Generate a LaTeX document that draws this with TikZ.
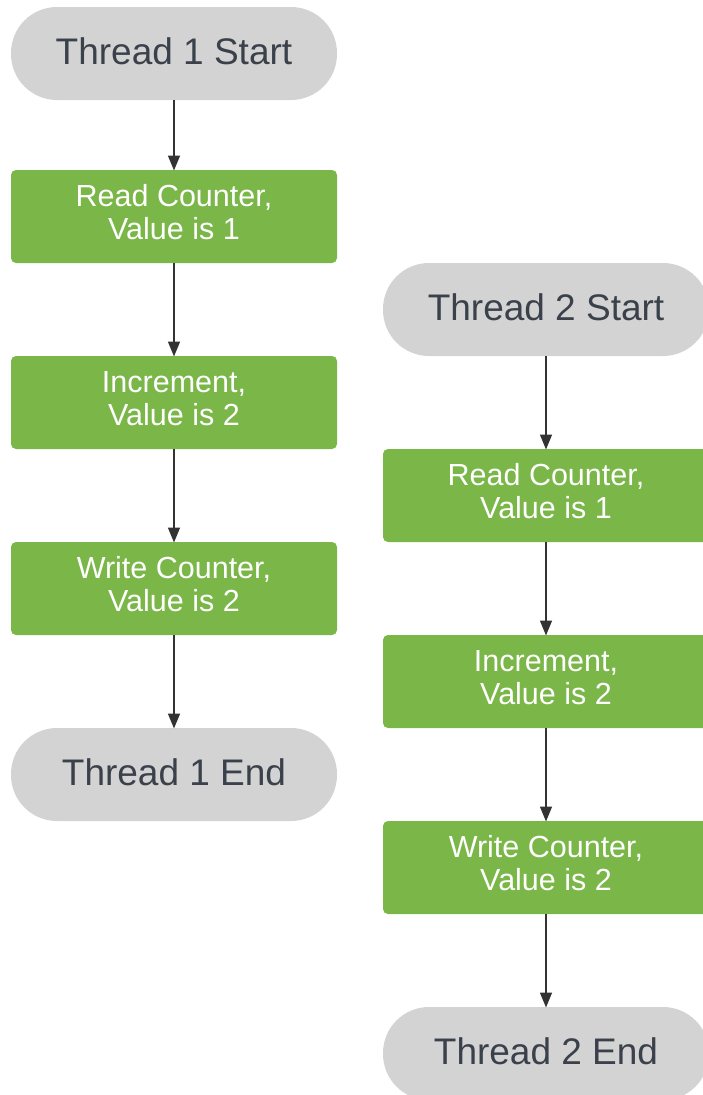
\documentclass[tikz,border=0pt]{standalone}
\usepackage{fontspec}
\setmainfont{Liberation Sans}
\usetikzlibrary{arrows.meta}
\definecolor{termgray}{HTML}{D3D3D3}
\definecolor{stepgreen}{HTML}{7AB648}
\definecolor{termtext}{HTML}{3A414A}
\definecolor{arrowcol}{HTML}{333333}
\newcommand\steptext[2]{\raisebox{3pt}{\begin{tabular}{@{}c@{}}#1\\#2\end{tabular}}}
\newcommand\termtext[1]{\raisebox{4pt}{#1}}
\tikzset{
  terminal/.style={fill=termgray, draw=none, rounded corners=46pt, minimum width=326pt, minimum height=93pt, inner sep=0pt, outer sep=0pt, text=termtext, font=\fontsize{37}{40}\selectfont},
  stepbox/.style={fill=stepgreen, draw=none, rounded corners=5pt, minimum width=326pt, minimum height=93pt, inner sep=0pt, outer sep=0pt, text=white, font=\fontsize{30.5}{33}\selectfont},
  flow/.style={draw=arrowcol, line width=1.5pt, -{Triangle[length=15pt, width=12pt]}, shorten >=-0.5pt}
}
\begin{document}
\begin{tikzpicture}[x=1pt, y=-1pt]
\useasboundingbox (0,0) rectangle (703,1095);
\begin{scope}
\clip (0,0) rectangle (703,1095);
% left column
\node[terminal] (s1) at (174,53.5) {\termtext{Thread 1 Start}};
\node[stepbox] (r1) at (174,216.5) {\steptext{Read Counter,}{Value is 1}};
\node[stepbox] (i1) at (174,402.5) {\steptext{Increment,}{Value is 2}};
\node[stepbox] (w1) at (174,588.5) {\steptext{Write Counter,}{Value is 2}};
\node[terminal] (e1) at (174,774.5) {\termtext{Thread 1 End}};
% right column
\node[terminal] (s2) at (546,309.5) {\termtext{Thread 2 Start}};
\node[stepbox] (r2) at (546,495.5) {\steptext{Read Counter,}{Value is 1}};
\node[stepbox] (i2) at (546,681.5) {\steptext{Increment,}{Value is 2}};
\node[stepbox] (w2) at (546,867.5) {\steptext{Write Counter,}{Value is 2}};
\node[terminal] (e2) at (546,1053.5) {\termtext{Thread 2 End}};
\end{scope}
\draw[flow] (s1) -- (r1);
\draw[flow] (r1) -- (i1);
\draw[flow] (i1) -- (w1);
\draw[flow] (w1) -- (e1);
\draw[flow] (s2) -- (r2);
\draw[flow] (r2) -- (i2);
\draw[flow] (i2) -- (w2);
\draw[flow] (w2) -- (e2);
\end{tikzpicture}
\end{document}
